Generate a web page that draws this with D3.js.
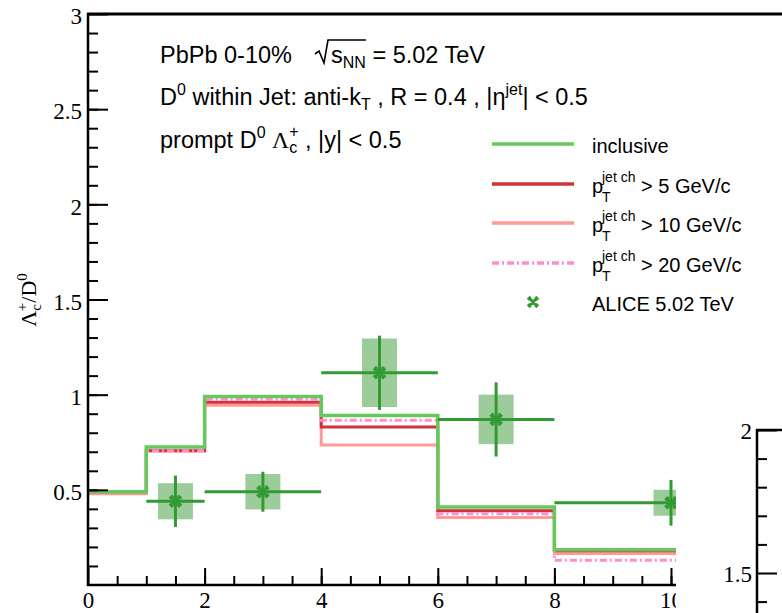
<!DOCTYPE html>
<html>
<head>
<meta charset="utf-8">
<script src="https://cdn.jsdelivr.net/npm/d3@7"></script>
<style>
  body { margin: 0; background: #fff; }
  svg { display: block; }
  .sans { font-family: "Liberation Sans", Arial, sans-serif; }
  .serif { font-family: "Liberation Serif", "Times New Roman", serif; }
</style>
</head>
<body>
<div id="chart"></div>
<script>
// bin edges of the model histograms (last bin runs past the visible range)
const binEdges = [0, 1, 2, 4, 6, 8, 12];
const inclusive = [0.49, 0.725, 0.99, 0.89, 0.41, 0.185];
const jetPt5 = [0.49, 0.705, 0.96, 0.83, 0.39, 0.18];
const jetPt10 = [0.48, 0.705, 0.945, 0.735, 0.355, 0.165];
const jetPt20 = [0.49, 0.705, 0.975, 0.865, 0.375, 0.13];

// ALICE points
const aliceX = [1.5, 3, 5, 7, 10];
const aliceXLo = [1, 2, 4, 6, 8];
const aliceXHi = [2, 4, 6, 8, 12];
const aliceY = [0.44, 0.49, 1.115, 0.87, 0.432];
const aliceStat = [0.135, 0.105, 0.195, 0.195, 0.12];
const aliceSys = [0.095, 0.093, 0.18, 0.13, 0.068];

const yTickMajor = [0.5, 1, 1.5, 2, 2.5, 3];
const xTickMajor = [0, 2, 4, 6, 8, 10];
const y2TickMajor = [1.5, 2];

const W = 782, H = 613;
const svg = d3.select("#chart").append("svg").attr("width", W).attr("height", H);

const x = d3.scaleLinear().domain([0, 10]).range([88, 671]);
const y = d3.scaleLinear().domain([0, 3]).range([585, 14]);

const defs = svg.append("defs");
defs.append("clipPath").attr("id", "plotclip")
  .append("rect").attr("x", 88).attr("y", 10).attr("width", 588).attr("height", 580);
defs.append("clipPath").attr("id", "xclip")
  .append("rect").attr("x", 0).attr("y", -600).attr("width", 676).attr("height", 700);

const plot = svg.append("g").attr("clip-path", "url(#plotclip)");

// step histograms
function stepData(vals) {
  const pts = [];
  vals.forEach(function (v, i) {
    pts.push([binEdges[i], v]);
    pts.push([binEdges[i + 1], v]);
  });
  return pts;
}
const stepLine = d3.line().x(d => x(d[0])).y(d => y(d[1]));

const series = [
  { vals: jetPt10, color: "#ff9a96", width: 3, dash: null },
  { vals: jetPt5, color: "#d0343a", width: 3, dash: null },
  { vals: jetPt20, color: "#ff8fcc", width: 3, dash: "7,3,2,3" },
  { vals: inclusive, color: "#66c95e", width: 3.5, dash: null }
];
series.forEach(function (s) {
  plot.append("path")
    .datum(stepData(s.vals))
    .attr("fill", "none")
    .attr("stroke", s.color)
    .attr("stroke-width", s.width)
    .attr("stroke-dasharray", s.dash)
    .attr("d", stepLine);
});

// ALICE data
const aliceColor = "#329a32";
const alice = aliceX.map((v, i) => ({
  x: v, lo: aliceXLo[i], hi: aliceXHi[i], y: aliceY[i], stat: aliceStat[i], sys: aliceSys[i]
}));
plot.selectAll(".sysbox").data(alice).enter().append("rect")
  .attr("x", d => x(d.x - 0.3))
  .attr("width", d => x(d.x + 0.3) - x(d.x - 0.3))
  .attr("y", d => y(d.y + d.sys))
  .attr("height", d => y(d.y - d.sys) - y(d.y + d.sys))
  .attr("fill", "#3a9a36").attr("fill-opacity", 0.5);
plot.selectAll(".hbar").data(alice).enter().append("line")
  .attr("x1", d => x(d.lo)).attr("x2", d => x(d.hi))
  .attr("y1", d => y(d.y)).attr("y2", d => y(d.y))
  .attr("stroke", aliceColor).attr("stroke-width", 3);
plot.selectAll(".vbar").data(alice).enter().append("line")
  .attr("x1", d => x(d.x)).attr("x2", d => x(d.x))
  .attr("y1", d => y(d.y + d.stat)).attr("y2", d => y(d.y - d.stat))
  .attr("stroke", aliceColor).attr("stroke-width", 3);

function marker(g, cx, cy, s) {
  const p = d3.path();
  const a = s, c = s * 0.5;
  [[1, 1], [1, -1], [-1, 1], [-1, -1]].forEach(function (d) {
    p.moveTo(cx, cy);
    p.lineTo(cx + d[0] * a, cy + d[1] * a);
    p.moveTo(cx + d[0] * (a - c), cy + d[1] * (a + c * 0.3));
    p.lineTo(cx + d[0] * (a + c * 0.3), cy + d[1] * (a - c));
  });
  g.append("path").attr("d", p.toString())
    .attr("stroke", aliceColor).attr("stroke-width", 3).attr("fill", "none");
}
alice.forEach(d => marker(plot, x(d.x), y(d.y), 5));

// axes
function styleAxis(g) {
  g.select(".domain").remove();
  g.selectAll(".tick line").attr("stroke", "#000").attr("stroke-width", 2);
  g.selectAll(".tick text").attr("fill", "#000")
    .attr("font-family", "Liberation Serif, Times New Roman, serif").attr("font-size", 23);
}
const yMinor = d3.range(1, 30).map(v => v / 10);
svg.append("g").attr("transform", "translate(88,0)")
  .call(d3.axisLeft(y).tickValues(yMinor).tickSize(-10).tickFormat(""))
  .call(styleAxis);
const yg = svg.append("g").attr("transform", "translate(88,0)")
  .call(d3.axisLeft(y).tickValues(yTickMajor).tickSize(-20).tickPadding(6).tickFormat(d3.format("~g")))
  .call(styleAxis);
yg.selectAll(".tick text").attr("dy", "0.42em");

const xMinor = d3.range(1, 21).map(v => v / 2);
svg.append("g").attr("transform", "translate(0,585)").attr("clip-path", "url(#xclip)")
  .call(d3.axisBottom(x).tickValues(xMinor).tickSize(-9).tickFormat(""))
  .call(styleAxis);
svg.append("g").attr("transform", "translate(0,585)").attr("clip-path", "url(#xclip)")
  .call(d3.axisBottom(x).tickValues(xTickMajor).tickSize(-17).tickPadding(7).tickFormat(d3.format("~g")))
  .call(styleAxis);

// frame
svg.append("line").attr("x1", 88).attr("x2", 88).attr("y1", 13).attr("y2", 586)
  .attr("stroke", "#000").attr("stroke-width", 2.5);
svg.append("line").attr("x1", 87).attr("x2", 676).attr("y1", 585).attr("y2", 585)
  .attr("stroke", "#000").attr("stroke-width", 2.5);
svg.append("line").attr("x1", 87).attr("x2", W).attr("y1", 14).attr("y2", 14)
  .attr("stroke", "#000").attr("stroke-width", 3);

// y title
const yt = svg.append("text").attr("class", "serif")
  .attr("transform", "translate(36,300) rotate(-90)")
  .attr("text-anchor", "middle").attr("font-size", 22).attr("fill", "#000");
yt.append("tspan").text("Λ");
yt.append("tspan").attr("font-size", 15).attr("dy", 5).text("c");
yt.append("tspan").attr("font-size", 15).attr("dx", -7).attr("dy", -14).text("+");
yt.append("tspan").attr("dy", 9).text("/D");
yt.append("tspan").attr("font-size", 15).attr("dy", -9).text("0");

// header text
const fs = 23.5, fsSmall = 16;
const hdr = svg.append("g").attr("class", "sans").attr("fill", "#000");
hdr.append("text").attr("x", 160).attr("y", 63).attr("font-size", fs).text("PbPb 0-10%");
hdr.append("path").attr("d", "M315,54 L319,51 L324,63 L328,40 L366,40")
  .attr("fill", "none").attr("stroke", "#000").attr("stroke-width", 1.6);
const t1 = hdr.append("text").attr("x", 331).attr("y", 63).attr("font-size", fs);
t1.append("tspan").text("s");
t1.append("tspan").attr("font-size", fsSmall).attr("dy", 5).text("NN");
t1.append("tspan").attr("dy", -5).text(" = 5.02 TeV");

const t2 = hdr.append("text").attr("x", 160).attr("y", 105).attr("font-size", fs);
t2.append("tspan").text("D");
t2.append("tspan").attr("font-size", fsSmall).attr("dy", -10).text("0");
t2.append("tspan").attr("dy", 10).text(" within Jet: anti-k");
t2.append("tspan").attr("font-size", fsSmall).attr("dy", 5).text("T");
t2.append("tspan").attr("dy", -5).text(" , R = 0.4 , |η");
t2.append("tspan").attr("font-size", fsSmall).attr("dy", -10).text("jet");
t2.append("tspan").attr("dy", 10).text("| < 0.5");

const t3 = hdr.append("text").attr("x", 160).attr("y", 148).attr("font-size", fs);
t3.append("tspan").text("prompt D");
t3.append("tspan").attr("font-size", fsSmall).attr("dy", -10).text("0");
t3.append("tspan").attr("dy", 10).text(" ");
t3.append("tspan").attr("font-family", "Liberation Serif, serif").text("Λ");
t3.append("tspan").attr("font-size", fsSmall).attr("dy", 5).text("c");
t3.append("tspan").attr("font-size", fsSmall).attr("dx", -8).attr("dy", -16).text("+");
t3.append("tspan").attr("dy", 11).text(" , |y| < 0.5");

// legend
const legendRows = [
  { color: "#66c95e", dash: null, label: "inclusive", y: 144 },
  { color: "#d0343a", dash: null, label: "> 5 GeV/c", y: 184 },
  { color: "#ff9a96", dash: null, label: "> 10 GeV/c", y: 223 },
  { color: "#ff8fcc", dash: "7,3,2,3", label: "> 20 GeV/c", y: 263 }
];
const leg = svg.append("g").attr("class", "sans");
legendRows.forEach(function (r, i) {
  leg.append("line").attr("x1", 492).attr("x2", 574).attr("y1", r.y).attr("y2", r.y)
    .attr("stroke", r.color).attr("stroke-width", 3.5).attr("stroke-dasharray", r.dash);
  if (i === 0) {
    leg.append("text").attr("x", 592).attr("y", r.y + 9).attr("font-size", 20).text(r.label);
  } else {
    const t = leg.append("text").attr("x", 592).attr("y", r.y + 9).attr("font-size", 20);
    t.append("tspan").text("p");
    t.append("tspan").attr("x", 602).attr("y", r.y - 2).attr("font-size", 14).text("jet ch");
    t.append("tspan").attr("x", 602).attr("y", r.y + 18).attr("font-size", 14).text("T");
    t.append("tspan").attr("x", 641).attr("y", r.y + 9).text(r.label);
  }
});
marker(leg, 533, 302, 4.5);
leg.append("text").attr("x", 592).attr("y", 311).attr("font-size", 20).text("ALICE 5.02 TeV");

// neighbouring pad
svg.append("rect").attr("x", 676).attr("y", 400).attr("width", W - 676).attr("height", H - 400).attr("fill", "#fff");
const y2 = d3.scaleLinear().domain([1.5, 2]).range([573, 430]);
const p2 = svg.append("g").attr("transform", "translate(757,0)");
p2.append("g").call(d3.axisLeft(y2).tickValues([1.4, 1.6, 1.7, 1.8, 1.9]).tickSize(-10).tickFormat("")).call(styleAxis);
p2.append("g").call(d3.axisLeft(y2).tickValues(y2TickMajor).tickSize(-20).tickPadding(5).tickFormat(d3.format("~g"))).call(styleAxis);
p2.selectAll(".tick text").attr("dy", "0.38em");
p2.append("line").attr("x1", 0).attr("x2", 0).attr("y1", 429).attr("y2", H).attr("stroke", "#000").attr("stroke-width", 2.5);
p2.append("line").attr("x1", -1).attr("x2", 30).attr("y1", 430).attr("y2", 430).attr("stroke", "#000").attr("stroke-width", 2.5);
</script>
</body>
</html>
